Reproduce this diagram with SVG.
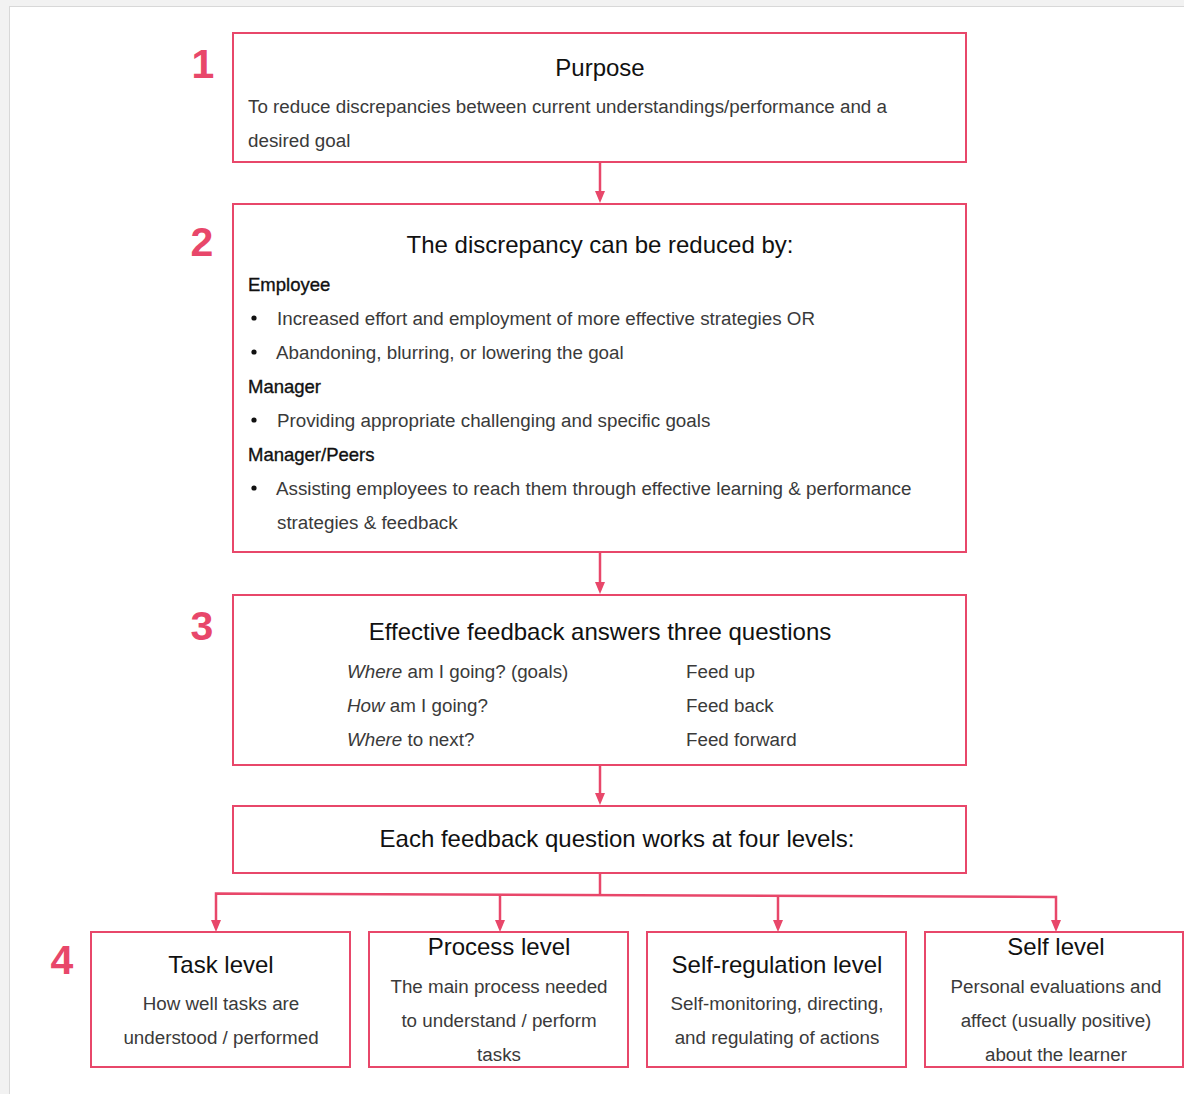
<svg xmlns="http://www.w3.org/2000/svg" width="1184" height="1094" viewBox="0 0 1184 1094">
<style>
.box{fill:#ffffff;stroke:#e8476a;stroke-width:2}
.num{font-family:"Liberation Sans",Arial,sans-serif;font-weight:bold;font-size:41px;fill:#e8476a;text-anchor:middle}
.title{font-family:"Liberation Sans",Arial,sans-serif;font-size:24px;fill:#111111}
.body{font-family:"Liberation Sans",Arial,sans-serif;font-size:18.8px;fill:#3a3a3a}
.head{font-family:"Liberation Sans",Arial,sans-serif;font-size:18.5px;fill:#111111;stroke:#111111;stroke-width:0.35}
.c{text-anchor:middle}
.conn{fill:none;stroke:#e8476a;stroke-width:2.5}
.ah{fill:#e8476a}
</style>
<rect x="0" y="0" width="1184" height="1094" fill="#f2f2f2"/>
<rect x="9.5" y="6.5" width="1180" height="1094" fill="#ffffff" stroke="#d8d8d8" stroke-width="1"/>

<g id="connectors">
<line class="conn" x1="600" y1="163" x2="600" y2="193"/>
<path class="ah" d="M595,191 L605,191 L600,203 Z"/>
<line class="conn" x1="600" y1="553" x2="600" y2="584"/>
<path class="ah" d="M595,582 L605,582 L600,594 Z"/>
<line class="conn" x1="600" y1="766" x2="600" y2="795"/>
<path class="ah" d="M595,793 L605,793 L600,805 Z"/>
<line class="conn" x1="600" y1="874" x2="600" y2="894"/>
<path class="conn" d="M216,922 L216,893.5 L1056,897 L1056,922" stroke-width="3"/>
<line class="conn" x1="500" y1="895" x2="500" y2="922"/>
<line class="conn" x1="778" y1="896" x2="778" y2="922"/>
<path class="ah" d="M211,920 L221,920 L216,932 Z"/>
<path class="ah" d="M495,920 L505,920 L500,932 Z"/>
<path class="ah" d="M773,920 L783,920 L778,932 Z"/>
<path class="ah" d="M1051,920 L1061,920 L1056,932 Z"/>
</g>

<g id="label-1"><text class="num" x="203" y="78">1</text></g>
<g id="label-2"><text class="num" x="202" y="256">2</text></g>
<g id="label-3"><text class="num" x="202" y="640">3</text></g>
<g id="label-4"><text class="num" x="62" y="974">4</text></g>

<g id="purpose">
<rect class="box" x="233" y="33" width="733" height="129"/>
<text class="title c" x="600" y="76" font-size="23">Purpose</text>
<text class="body" x="248" y="113">To reduce discrepancies between current understandings/performance and a</text>
<text class="body" x="248" y="147">desired goal</text>
</g>

<g id="discrepancy">
<rect class="box" x="233" y="204" width="733" height="348"/>
<text class="title c" x="600" y="253">The discrepancy can be reduced by:</text>
<text class="head" x="248" y="291">Employee</text>
<circle cx="254" cy="318" r="2.6" fill="#111"/>
<text class="body" x="277" y="325">Increased effort and employment of more effective strategies OR</text>
<circle cx="254" cy="352" r="2.6" fill="#111"/>
<text class="body" x="276" y="359">Abandoning, blurring, or lowering the goal</text>
<text class="head" x="248" y="393">Manager</text>
<circle cx="254" cy="420" r="2.6" fill="#111"/>
<text class="body" x="277" y="427">Providing appropriate challenging and specific goals</text>
<text class="head" x="248" y="461">Manager/Peers</text>
<circle cx="254" cy="488" r="2.6" fill="#111"/>
<text class="body" x="276" y="495">Assisting employees to reach them through effective learning &amp; performance</text>
<text class="body" x="277" y="529">strategies &amp; feedback</text>
</g>

<g id="three-questions">
<rect class="box" x="233" y="595" width="733" height="170"/>
<text class="title c" x="600" y="640">Effective feedback answers three questions</text>
<text class="body" x="347" y="678"><tspan font-style="italic">Where</tspan> am I going? (goals)</text>
<text class="body" x="347" y="712"><tspan font-style="italic">How</tspan> am I going?</text>
<text class="body" x="347" y="746"><tspan font-style="italic">Where</tspan> to next?</text>
<text class="body" x="686" y="678">Feed up</text>
<text class="body" x="686" y="712">Feed back</text>
<text class="body" x="686" y="746">Feed forward</text>
</g>

<g id="four-levels">
<rect class="box" x="233" y="806" width="733" height="67"/>
<text class="title c" x="617" y="847">Each feedback question works at four levels:</text>
</g>

<g id="task-level">
<rect class="box" x="91" y="932" width="259" height="135"/>
<text class="title c" x="221" y="973">Task level</text>
<text class="body c" x="221" y="1010">How well tasks are</text>
<text class="body c" x="221" y="1044">understood / performed</text>
</g>

<g id="process-level">
<rect class="box" x="369" y="932" width="259" height="135"/>
<text class="title c" x="499" y="955">Process level</text>
<text class="body c" x="499" y="993">The main process needed</text>
<text class="body c" x="499" y="1027">to understand / perform</text>
<text class="body c" x="499" y="1061">tasks</text>
</g>

<g id="self-regulation-level">
<rect class="box" x="647" y="932" width="259" height="135"/>
<text class="title c" x="777" y="973">Self-regulation level</text>
<text class="body c" x="777" y="1010">Self-monitoring, directing,</text>
<text class="body c" x="777" y="1044">and regulating of actions</text>
</g>

<g id="self-level">
<rect class="box" x="925" y="932" width="258" height="135"/>
<text class="title c" x="1056" y="955">Self level</text>
<text class="body c" x="1056" y="993">Personal evaluations and</text>
<text class="body c" x="1056" y="1027">affect (usually positive)</text>
<text class="body c" x="1056" y="1061">about the learner</text>
</g>
</svg>
